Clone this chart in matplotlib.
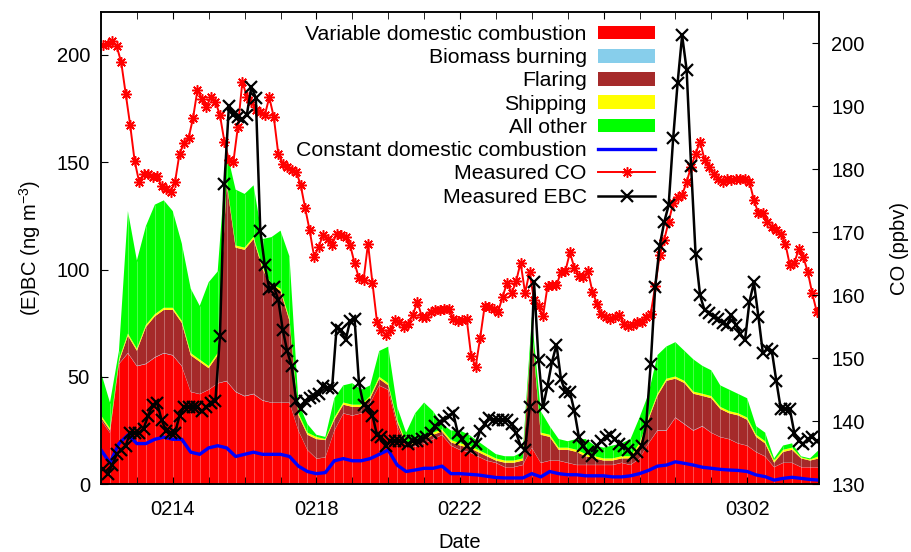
import numpy as np
import pandas as pd
import matplotlib
matplotlib.use("Agg")
import matplotlib.pyplot as plt
import matplotlib.dates as mdates
from matplotlib.patches import Patch
from matplotlib.lines import Line2D

plt.rcParams['font.family'] = ['Liberation Sans', 'DejaVu Sans']
plt.rcParams['mathtext.default'] = 'regular'

# ---------------- data ----------------
meas_time = pd.date_range('2014-02-12 01:30', periods=160, freq='3h')
model_time = pd.date_range('2014-02-12 00:00', periods=81, freq='6h')

ebc = [7, 5, 9, 14, 16, 18, 24, 24, 24, 26,
       32, 37, 38, 30, 25, 24, 24, 32, 36, 36,
       36, 36, 34, 36, 38, 39, 69, 140, 176, 172,
       171, 170, 172, 185, 180, 118, 102, 91, 92, 86,
       72, 62, 55, 39, 35, 39, 40, 41, 42, 46,
       45, 45, 73, 72, 67, 76, 77, 47, 37, 36,
       32, 23, 22, 18, 20, 20, 20, 20, 19, 20,
       20, 21, 22, 24, 27, 29, 30, 32, 33, 24,
       21, 18, 16, 19, 25, 28, 31, 30, 30, 30,
       30, 28, 24, 18, 16, 36, 94, 58, 36, 46,
       57, 65, 49, 43, 43, 34, 22, 18, 15, 13,
       18, 20, 22, 23, 21, 19, 18, 16, 13, 15,
       18, 28, 56, 92, 111, 122, 130, 161, 187, 209,
       193, 148, 107, 88, 81, 80, 78, 77, 75, 74,
       79, 74, 70, 67, 85, 94, 78, 61, 63, 62,
       48, 35, 35, 35, 24, 20, 19, 21, 22, 20]

co = [199.7, 199.8, 200.3, 199.5, 197.0, 192.0, 187.0, 181.3, 178.0, 179.3,
      179.3, 178.8, 179.0, 177.3, 176.9, 176.4, 178.0, 182.5, 184.1, 184.9,
      188.1, 192.6, 191.2, 189.9, 191.5, 190.7, 188.6, 184.4, 181.5, 181.2,
      186.7, 193.9, 191.5, 190.7, 189.4, 189.1, 188.6, 191.4, 188.3, 182.5,
      180.9, 180.4, 179.9, 179.6, 177.5, 173.8, 170.3, 166.1, 167.7, 169.6,
      169.0, 168.0, 169.8, 169.5, 169.3, 168.0, 165.1, 162.7, 162.4, 168.2,
      161.9, 155.8, 154.5, 153.7, 154.5, 156.1, 155.8, 155.0, 155.5, 156.9,
      159.0, 156.6, 156.6, 157.4, 157.7, 157.7, 157.9, 157.8, 156.3, 156.0,
      156.1, 156.2, 150.3, 148.7, 153.3, 158.3, 158.1, 157.9, 157.4, 159.8,
      162.0, 160.3, 162.2, 165.2, 160.4, 163.7, 159.2, 158.3, 156.7, 161.4,
      161.6, 161.6, 163.7, 163.9, 166.8, 164.3, 163.1, 162.9, 163.9, 160.6,
      158.7, 157.0, 156.6, 156.3, 156.5, 156.9, 155.5, 155.1, 155.3, 155.8,
      155.8, 156.5, 157.1, 161.4, 166.4, 168.8, 171.7, 174.6, 175.6, 175.9,
      178.0, 180.4, 182.5, 184.4, 181.5, 180.4, 179.3, 178.5, 178.0, 178.5,
      178.3, 178.5, 178.5, 178.5, 178.0, 175.1, 173.0, 173.0, 171.7, 170.9,
      170.3, 169.8, 168.2, 164.8, 165.1, 167.4, 166.1, 163.7, 160.3, 157.4]

dom_var = [30, 24, 56, 61, 55, 56, 59, 61, 60, 55,
           43, 42, 44, 47, 48, 43, 41, 42, 39, 38,
           38, 38, 25, 16, 12, 12.5, 25, 33, 32, 33,
           38, 46, 44, 27, 17.5, 17.5, 19, 21, 23, 18,
           16, 15, 13, 11, 10, 8, 8, 9, 17, 10,
           11, 11, 10, 9, 9, 9, 9, 9, 10, 9,
           12, 19, 25, 25, 31, 28, 25, 27, 24, 22,
           21, 19, 18, 15, 13, 8, 10, 10, 8, 8,
           8]

biomass = [0.1, 0.1, 0.1, 0.2, 0.2, 0.2, 0.2, 0.2, 0.2, 0.2,
           0.1, 0.1, 0.1, 0.1, 0.2, 0.2, 0.2, 0.2, 0.2, 0.1,
           0.1, 0.1, 0.1, 0.1, 0.1, 0.1, 0.1, 0.1, 0.1, 0.1,
           0.1, 0.1, 0.1, 0.1, 0.1, 0.1, 0.1, 0.1, 0.1, 0.1,
           0.1, 0.1, 0.1, 0.1, 0.1, 0.1, 0.1, 0.1, 0.1, 0.1,
           0.1, 0.1, 0.1, 0.1, 0.1, 0.1, 0.1, 0.1, 0.1, 0.1,
           0.1, 0.1, 0.2, 0.2, 0.2, 0.2, 0.2, 0.2, 0.1, 0.1,
           0.1, 0.1, 0.1, 0.1, 0.1, 0.1, 0.1, 0.1, 0.1, 0.1,
           0.1]

flaring = [1, 1, 1, 8, 7, 17, 19, 20, 21, 20,
           17, 15, 10, 13, 92, 67, 68, 72, 61, 54,
           52, 38, 7, 7, 9, 8, 5, 4, 4, 3,
           2, 3, 2, 2, 1, 1.5, 1.5, 2, 1.5, 1.5,
           2, 2, 2, 2, 1, 2, 2, 2, 55, 13,
           11, 5, 6, 6, 4, 3, 2, 2, 2, 3,
           6, 11, 16, 23, 18, 19, 17, 14, 16, 13,
           12, 13, 12, 7, 6, 2, 5, 6, 4, 3,
           4]

shipping = [1, 1, 1, 1, 1, 1, 1, 1, 1, 1,
            1, 1, 1, 1, 1, 1, 1, 1, 1, 1,
            1, 1, 1, 1, 1, 0.5, 1, 1, 1, 1,
            1, 1, 1, 1, 1, 1, 1, 1, 1, 1,
            1, 1, 1, 1, 1, 1, 1, 1, 1, 1,
            1, 1, 1, 1, 1, 1, 1, 1, 1, 1,
            1, 1, 1, 1, 1, 1, 1, 1, 1, 1,
            1, 1, 1, 1, 1, 1, 1, 1, 0.5, 0.5,
            1]

other = [20, 12, 4, 57, 41, 46, 51, 50, 45, 36,
         30, 25, 39, 38, 14, 26, 25, 24, 13, 22,
         27, 29, 5, 4, 1, 1, 9, 8, 10, 7,
         5, 12, 17, 6, 4.5, 13, 16.5, 10, 2.5, 4.5,
         6, 5, 4, 3, 2, 2, 2, 3, 5, 10,
         4, 4, 3, 5, 7, 5, 5, 6, 6, 8,
         12, 11, 18, 15, 16, 14, 15, 13, 12, 10,
         10, 9, 9, 4, 4, 1, 2, 2, 0.5, 0.5,
         3]

dom_const = [16, 10, 19, 23, 19, 19, 21, 22, 21, 21,
             15, 14, 17, 18, 17, 13, 14, 15, 14, 14,
             14, 13, 8.5, 6, 5, 5.5, 11, 12, 11, 11,
             12, 14, 16, 9, 6, 6.7, 7.5, 7.5, 8.5, 5,
             5, 4.7, 4.4, 3.8, 3.2, 3, 3, 3, 5, 3.5,
             6, 5, 4.5, 4.5, 4, 4, 4, 3.5, 3.5, 4,
             5, 6.5, 8.5, 9, 10.5, 9.8, 9, 8, 7.5, 7,
             6.7, 6.5, 6, 4.4, 3.6, 2, 2.8, 3.3, 2.8, 2.3,
             2]

tick_dates = ['2014-02-14', '2014-02-18', '2014-02-22', '2014-02-26', '2014-03-02']
tick_labels = ['0214', '0218', '0222', '0226', '0302']

layer_names = ['Variable domestic combustion', 'Biomass burning', 'Flaring',
               'Shipping', 'All other']
layer_colors = ['#ff0000', '#87ceeb', '#a52a2a', '#ffff00', '#00ff00']

# ---------------- figure ----------------
FS = 14.5
LFS = 15.3
fig = plt.figure(figsize=(9.12, 5.52), dpi=100)
ax = fig.add_axes([101 / 912, 1 - 484.4 / 552, 718 / 912, 472.7 / 552])
ax2 = ax.twinx()
ax2.set_ylim(130, 205)

layers = [dom_var, biomass, flaring, shipping, other]
ax.stackplot(model_time, *layers, colors=layer_colors, lw=0, zorder=1)
total = np.sum(np.array(layers, dtype=float), axis=0)
ax.vlines(model_time, 0, total, colors='white', lw=0.6, alpha=0.35, zorder=1.5)

ax.plot(model_time, dom_const, color='#0000ff', lw=2.4, zorder=3)
ax.plot(meas_time, co, color='#ff0000', lw=1.4, marker=(8, 2, 0), ms=7.5, mew=1.1,
        transform=ax2.transData, zorder=4)
ax.plot(meas_time, ebc, color='black', lw=1.8, marker='x', ms=8.5, mew=1.6, zorder=5)

ax.set_xlim(pd.Timestamp('2014-02-12'), pd.Timestamp('2014-03-04'))
ax.set_ylim(0, 220)

ax.set_xticks(pd.to_datetime(tick_dates))
ax.set_xticklabels(tick_labels)
ax.xaxis.set_minor_locator(mdates.DayLocator())
ax.set_yticks([0, 50, 100, 150, 200])
ax2.set_yticks(np.arange(130, 201, 10))

ax.tick_params(axis='x', which='both', direction='in', length=5, top=True,
               labelsize=FS, pad=11.5)
ax.tick_params(axis='y', direction='in', length=5, right=False, labelsize=FS, pad=8)
ax2.tick_params(axis='y', direction='in', length=5, labelsize=FS, pad=9)
for a in (ax, ax2):
    for s in a.spines.values():
        s.set_linewidth(1.1)

ax.set_xlabel('Date', fontsize=FS, labelpad=9.5)
ax.set_ylabel('(E)BC (ng m$^{-3}$)', fontsize=FS, labelpad=9.5)
ax2.set_ylabel('CO (ppbv)', fontsize=FS, labelpad=18)

handles = [Patch(facecolor=c, edgecolor='none') for c in layer_colors]
handles += [Line2D([], [], color='#0000ff', lw=2.4),
            Line2D([], [], color='#ff0000', lw=1.4, marker=(8, 2, 0), ms=7.5, mew=1.1),
            Line2D([], [], color='black', lw=1.8, marker='x', ms=8.5, mew=1.6)]
labels = layer_names + ['Constant domestic combustion', 'Measured CO', 'Measured EBC']
leg = ax2.legend(handles, labels, loc='upper right', bbox_to_anchor=(0.772, 0.972),
                 frameon=False, markerfirst=False, fontsize=LFS, numpoints=1,
                 handlelength=2.7, handleheight=0.62, handletextpad=0.52,
                 labelspacing=0.2, borderpad=0, borderaxespad=0)
for col in leg._legend_handle_box.get_children():
    col.align = 'right'

fig.savefig('out.png', dpi=100)
